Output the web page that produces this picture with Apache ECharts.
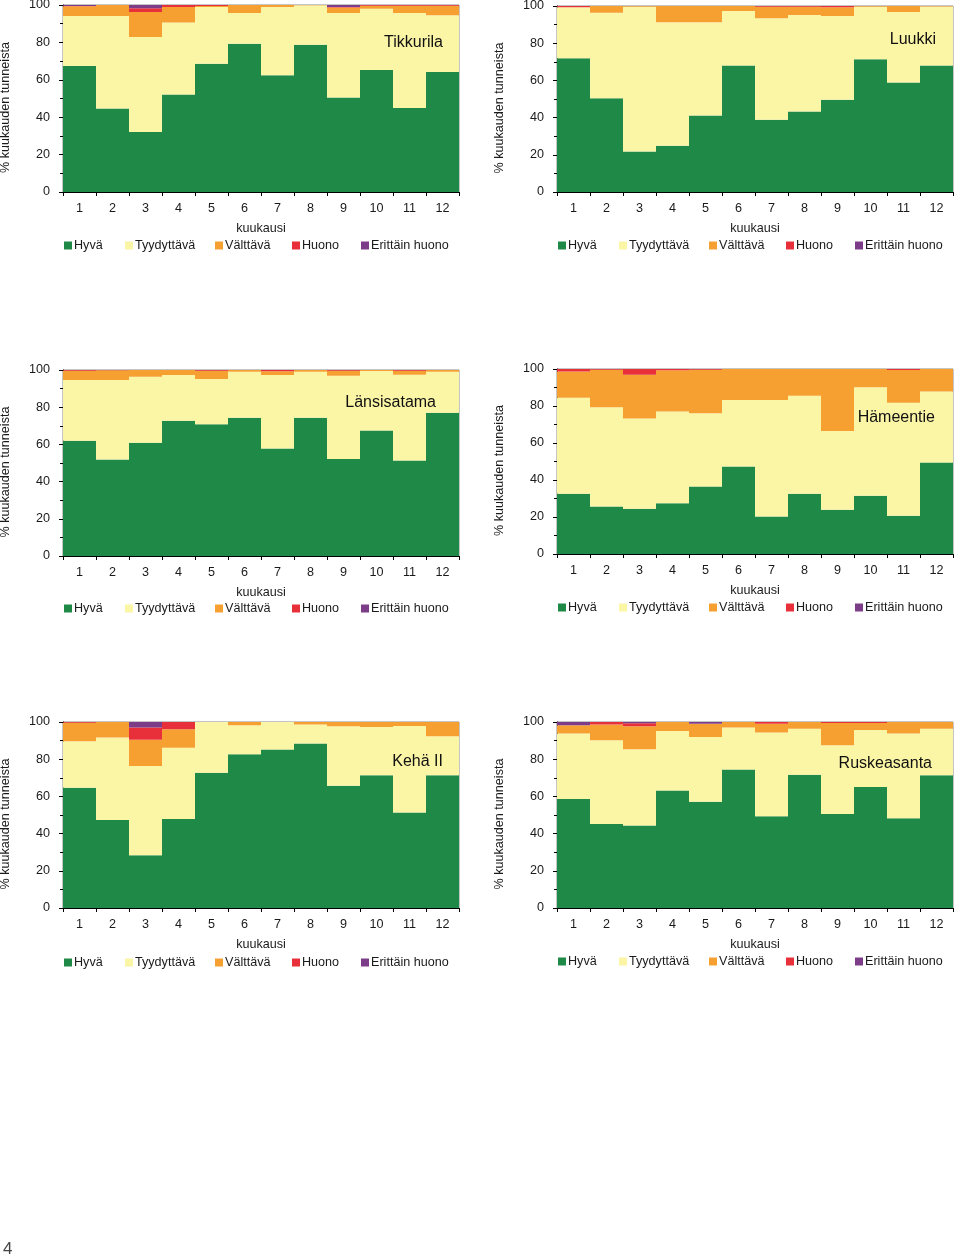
<!DOCTYPE html>
<html>
<head>
<meta charset="utf-8">
<script src="https://cdn.jsdelivr.net/npm/echarts@6/dist/echarts.min.js"></script>
<style>
html,body{margin:0;padding:0;background:#fff;}
#c{width:960px;height:1256px;}
</style>
</head>
<body>
<div id="c"></div>
<script>
// ---- categories / labels ----
var months = ['1','2','3','4','5','6','7','8','9','10','11','12'];
var classNames = ['Hyvä','Tyydyttävä','Välttävä','Huono','Erittäin huono'];
var yTicks = [0,20,40,60,80,100];

// ---- Tikkurila ----
var tikkurilaHyva   = [67.4,44.6,32.1,52.2,68.6,79.3,62.4,78.8,50.6,65.2,44.9,64.2];
var tikkurilaTyyd   = [26.7,49.5,50.8,38.5,30.3,16.4,36.5,21.0,45.1,32.8,50.8,30.3];
var tikkurilaValt   = [5.2,5.9,13.4,8.2,0.6,4.3,1.1,0.2,2.9,1.6,3.9,5.1];
var tikkurilaHuono  = [0.2,0,1.9,1.1,0.5,0,0,0,0.3,0.4,0.4,0.4];
var tikkurilaErit   = [0.5,0,1.8,0,0,0,0,0,1.1,0,0,0];

// ---- Luukki ----
var luukkiHyva  = [71.9,50.4,21.8,24.9,41.1,68.0,38.8,43.3,49.6,71.4,58.9,68.0];
var luukkiTyyd  = [27.4,46.0,77.8,66.3,50.1,29.3,54.6,51.9,45.0,28.2,37.9,31.7];
var luukkiValt  = [0,3.6,0.4,8.8,8.8,2.7,6.2,4.4,4.7,0.4,3.2,0.3];
var luukkiHuono = [0.7,0,0,0,0,0,0.4,0.4,0.7,0,0,0];
var luukkiErit  = [0,0,0,0,0,0,0,0,0,0,0,0];

// ---- Länsisatama ----
var lansiHyva  = [61.9,51.9,60.9,72.7,70.9,74.3,57.8,74.3,52.2,67.5,51.3,77.0];
var lansiTyyd  = [32.7,42.7,35.5,24.6,24.3,24.8,39.5,24.8,44.7,32.0,46.2,22.1];
var lansiValt  = [5.0,5.2,3.6,2.7,4.4,0.9,2.0,0.9,2.7,0.5,2.1,0.9];
var lansiHuono = [0.4,0.2,0,0,0.4,0,0.7,0,0.4,0,0.4,0];
var lansiErit  = [0,0,0,0,0,0,0,0,0,0,0,0];

// ---- Hämeentie ----
var hameHyva  = [32.6,25.7,24.5,27.5,36.5,47.3,20.3,32.6,23.9,31.5,20.7,49.5];
var hameTyyd  = [51.9,53.6,48.7,49.5,39.6,36.0,63.0,53.0,42.6,58.6,61.1,38.3];
var hameValt  = [14.2,20.3,23.7,22.3,23.5,16.7,16.7,14.4,33.5,9.9,17.7,12.2];
var hameHuono = [1.3,0.4,3.1,0.7,0.4,0,0,0,0,0,0.5,0];
var hameErit  = [0,0,0,0,0,0,0,0,0,0,0,0];

// ---- Kehä II ----
var kehaHyva  = [64.6,47.3,28.4,47.9,72.7,82.7,85.2,88.4,65.7,71.4,51.4,71.4];
var kehaTyyd  = [25.0,44.3,48.0,38.2,27.3,15.5,14.8,10.2,32.0,25.9,46.5,20.9];
var kehaValt  = [10.0,8.4,14.1,10.0,0,1.8,0,1.4,2.3,2.7,2.1,7.7];
var kehaHuono = [0.4,0,6.5,3.9,0,0,0,0,0,0,0,0];
var kehaErit  = [0,0,3.0,0,0,0,0,0,0,0,0,0];

// ---- Ruskeasanta ----
var ruskHyva  = [58.6,45.2,44.3,63.2,57.1,74.5,49.3,71.6,50.5,65.0,48.2,71.4];
var ruskTyyd  = [35.2,45.0,41.1,32.0,34.9,22.5,45.0,24.8,37.0,30.7,45.6,25.0];
var ruskValt  = [4.4,8.4,12.3,4.8,7.1,3.0,4.8,3.6,12.0,3.8,6.2,3.6];
var ruskHuono = [0,1.4,1.6,0,0,0,0.9,0,0.5,0.5,0,0];
var ruskErit  = [1.8,0,0.7,0,0.9,0,0,0,0,0,0,0];

var colors = ['#1f8a47','#fbf5a6','#f6a032','#e8303a','#7d3c88'];
var FONT = '"Liberation Sans", Arial, sans-serif';

// plot widths are multiples of 12 so that bar edges fall on whole pixels (no seams)
var panels = [
  {name:'Tikkurila',   data:[tikkurilaHyva,tikkurilaTyyd,tikkurilaValt,tikkurilaHuono,tikkurilaErit], grid:{left:63,top:5,width:396,height:187},  tx:443, ty:43,  ly:247},
  {name:'Luukki',      data:[luukkiHyva,luukkiTyyd,luukkiValt,luukkiHuono,luukkiErit],                grid:{left:557,top:6,width:396,height:186}, tx:936, ty:40,  ly:247},
  {name:'Länsisatama', data:[lansiHyva,lansiTyyd,lansiValt,lansiHuono,lansiErit],                     grid:{left:63,top:370,width:396,height:186},tx:436, ty:403, ly:610},
  {name:'Hämeentie',   data:[hameHyva,hameTyyd,hameValt,hameHuono,hameErit],                          grid:{left:557,top:369,width:396,height:185},tx:935, ty:418, ly:609},
  {name:'Kehä II',     data:[kehaHyva,kehaTyyd,kehaValt,kehaHuono,kehaErit],                          grid:{left:63,top:722,width:396,height:186},tx:443, ty:762, ly:964},
  {name:'Ruskeasanta', data:[ruskHyva,ruskTyyd,ruskValt,ruskHuono,ruskErit],                          grid:{left:557,top:722,width:396,height:186},tx:932, ty:764, ly:963}
];

var legendOffsets = [1,62,152,229,298];

var option = {
  animation:false,
  backgroundColor:'#ffffff',
  textStyle:{fontFamily:FONT},
  grid:[], xAxis:[], yAxis:[], series:[], legend:[], graphic:[]
};

panels.forEach(function(p, i){
  option.grid.push({left:p.grid.left, top:p.grid.top, width:p.grid.width, height:p.grid.height,
    show:true, borderColor:'#8c8c8c', borderWidth:1, backgroundColor:'transparent',
    containLabel:false, outerBoundsMode:'none'});
  option.xAxis.push({
    type:'category', gridIndex:i, data:months, boundaryGap:true,
    name:'kuukausi', nameLocation:'middle', nameGap:30,
    nameTextStyle:{fontSize:12.6, color:'#1a1a1a', fontFamily:FONT},
    axisLine:{lineStyle:{color:'#000', width:1}},
    axisTick:{show:true, length:4, inside:false, lineStyle:{color:'#000'}},
    axisLabel:{fontSize:12.6, color:'#1a1a1a', margin:10, fontFamily:FONT},
    splitLine:{show:false}, splitArea:{show:false}, minorSplitLine:{show:false}
  });
  option.yAxis.push({
    type:'value', gridIndex:i, min:yTicks[0], max:yTicks[yTicks.length-1], interval:20,
    name:'% kuukauden tunneista', nameLocation:'middle', nameGap:51, nameRotate:90,
    nameTextStyle:{fontSize:12.6, color:'#1a1a1a', fontFamily:FONT, padding:[0,18,0,0]},
    axisLine:{show:true, lineStyle:{color:'#000', width:1}},
    axisTick:{show:true, length:4, lineStyle:{color:'#000'}},
    minorTick:{show:true, splitNumber:2, length:3, lineStyle:{color:'#000'}},
    axisLabel:{fontSize:12.6, color:'#1a1a1a', margin:13, fontFamily:FONT},
    splitLine:{show:false}, minorSplitLine:{show:false}, splitArea:{show:false}
  });
  classNames.forEach(function(cn, k){
    option.series.push({
      type:'bar', name:cn, xAxisIndex:i, yAxisIndex:i, stack:'s'+i,
      data:p.data[k], barWidth:'100%', barCategoryGap:'0%', barGap:'0%',
      itemStyle:{color:colors[k], borderWidth:0}, emphasis:{disabled:true}
    });
    option.legend.push({
      data:[cn], left:p.grid.left + legendOffsets[k], top:p.ly - 8,
      padding:0, itemWidth:8, itemHeight:8, icon:'rect', selectedMode:false,
      itemStyle:{borderWidth:0},
      textStyle:{fontSize:12.6, color:'#1a1a1a', fontFamily:FONT, padding:[0,0,0,-3]}
    });
  });
  option.graphic.push({
    type:'text', x:p.tx, y:p.ty, z:100,
    style:{text:p.name, align:'right', verticalAlign:'middle', fontSize:16, fontFamily:FONT, fill:'#111'}
  });
});

option.graphic.push({
  type:'text', x:3, y:1249, z:100,
  style:{text:'4', align:'left', verticalAlign:'middle', fontSize:17, fontFamily:FONT, fill:'#444'}
});

var chart = echarts.init(document.getElementById('c'), null, {renderer:'canvas'});
chart.setOption(option);
</script>
</body>
</html>
